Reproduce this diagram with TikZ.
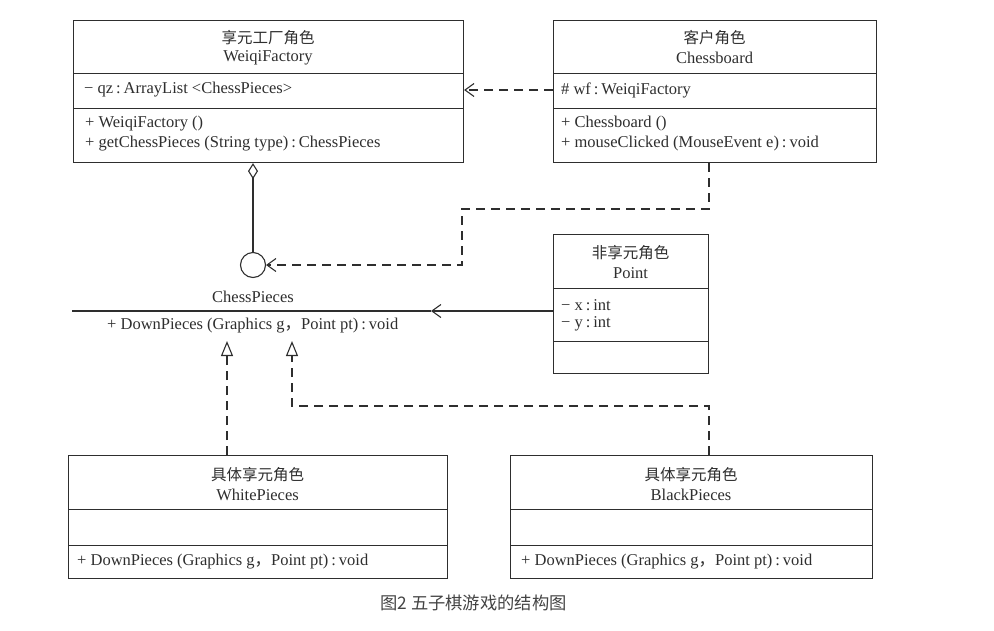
\documentclass[tikz,border=0pt]{standalone}
\usepackage{fontspec}
\setmainfont{Liberation Serif}
\newfontfamily\cjk{Noto Sans CJK SC}
\usetikzlibrary{arrows.meta}
\definecolor{ink}{HTML}{2E2E2E}
\definecolor{capink}{HTML}{444444}
\newcommand\umlcolon{\hspace{0.18em}:\hspace{0.18em}}
\newcommand\umlcomma{{\cjk ，}}
\begin{document}
\begin{tikzpicture}[x=1pt,y=-1pt,
  umlbox/.style={draw=ink, line width=1.1pt, rectangle, anchor=north west, inner sep=0pt},
  txt/.style={text=ink, font=\fontsize{16.5}{18}\selectfont, inner sep=0pt},
  txtl/.style={txt, anchor=west},
  cntxt/.style={text=ink, font=\cjk\fontsize{15.5}{17}\selectfont, inner sep=0pt},
  sepline/.style={draw=ink, line width=1pt},
  solidline/.style={draw=ink, line width=1.1pt},
  depline/.style={draw=ink, line width=1.1pt, dash pattern=on 9pt off 6pt,
    -{Straight Barb[length=9pt,width=13pt,line width=1.1pt]}},
  assocline/.style={draw=ink, line width=1.1pt,
    -{Straight Barb[length=9pt,width=13pt,line width=1.1pt]}},
  realline/.style={draw=ink, line width=1.1pt, dash pattern=on 9pt off 6pt,
    -{Triangle[open,length=15pt,width=12pt,line width=1.1pt]}},
  aggline/.style={draw=ink, line width=1.1pt,
    {Diamond[open,length=16pt,width=10pt,line width=1.1pt]}-}
]
\useasboundingbox (0,0) rectangle (994,630);

% boxes
\node[umlbox, minimum width=390pt, minimum height=142pt] (wf) at (73,20) {};
\node[umlbox, minimum width=323pt, minimum height=142pt] (cb) at (553,20) {};
\node[umlbox, minimum width=155pt, minimum height=139pt] (pt) at (553,234) {};
\node[umlbox, minimum width=379pt, minimum height=123pt] (wp) at (68,455) {};
\node[umlbox, minimum width=362pt, minimum height=123pt] (bp) at (510,455) {};

% separators
\draw[sepline] (wf.west |- 0,73) -- (wf.east |- 0,73);
\draw[sepline] (wf.west |- 0,108) -- (wf.east |- 0,108);
\draw[sepline] (cb.west |- 0,73) -- (cb.east |- 0,73);
\draw[sepline] (cb.west |- 0,108) -- (cb.east |- 0,108);
\draw[sepline] (pt.west |- 0,288) -- (pt.east |- 0,288);
\draw[sepline] (pt.west |- 0,341) -- (pt.east |- 0,341);
\draw[sepline] (wp.west |- 0,509) -- (wp.east |- 0,509);
\draw[sepline] (wp.west |- 0,545) -- (wp.east |- 0,545);
\draw[sepline] (bp.west |- 0,509) -- (bp.east |- 0,509);
\draw[sepline] (bp.west |- 0,545) -- (bp.east |- 0,545);

% WeiqiFactory texts
\node[cntxt] (wfcn) at (268,38) {享元工厂角色};
\node[txt] (wfname) at (268,58) {WeiqiFactory};
\node[txtl] (wfa1) at (84,90) {− qz\umlcolon ArrayList <ChessPieces>};
\node[txtl] (wfm1) at (85,124) {+ WeiqiFactory ()};
\node[txtl] (wfm2) at (85,144) {+ getChessPieces (String type)\umlcolon ChessPieces};

% Chessboard texts
\node[cntxt] (cbcn) at (714.5,38) {客户角色};
\node[txt] (cbname) at (714.5,58) {Chessboard};
\node[txtl] (cba1) at (561,90) {\# wf\umlcolon WeiqiFactory};
\node[txtl] (cbm1) at (561,124) {+ Chessboard ()};
\node[txtl] (cbm2) at (561,144) {+ mouseClicked (MouseEvent e)\umlcolon void};

% Point texts
\node[cntxt] (ptcn) at (630.5,253) {非享元角色};
\node[txt] (ptname) at (630.5,273) {Point};
\node[txtl] (pta1) at (561,305) {− x\umlcolon int};
\node[txtl] (pta2) at (561,324) {− y\umlcolon int};

% ChessPieces interface
\node[circle, draw=ink, line width=1.1pt, minimum size=25pt, inner sep=0pt] (iface) at (253,265) {};
\node[txt] (cpname) at (253,297) {ChessPieces};
\coordinate (cpL) at (72,311);
\coordinate (cpR) at (431,311);
\draw[solidline] (cpL) -- (cpR);
\node[txtl] (cpm1) at (107,326) {+ DownPieces (Graphics g\umlcomma Point pt)\umlcolon void};

% WhitePieces texts
\node[cntxt] (wpcn) at (257.5,475) {具体享元角色};
\node[txt] (wpname) at (257.5,495) {WhitePieces};
\node[txtl] (wpm1) at (77,562) {+ DownPieces (Graphics g\umlcomma Point pt)\umlcolon void};

% BlackPieces texts
\node[cntxt] (bpcn) at (691,475) {具体享元角色};
\node[txt] (bpname) at (691,495) {BlackPieces};
\node[txtl] (bpm1) at (521,562) {+ DownPieces (Graphics g\umlcomma Point pt)\umlcolon void};

% caption
\node[text=capink, font=\cjk\fontsize{17.3}{19}\selectfont, inner sep=0pt] (cap) at (473.5,603) {图2 五子棋游戏的结构图};

% connectors
\draw[depline] (cb.west |- wfa1) -- (wf.east |- wfa1);
\draw[aggline] (wf.south -| iface) -- (iface.north);
\coordinate (b1) at (709,209);
\coordinate (b2) at (462,209);
\draw[depline] (cb.south -| b1) -- (b1) -- (b2) |- (iface.east);
\draw[assocline] (pt.west |- cpR) -- (cpR);
\coordinate (r1) at (227,341);
\coordinate (r2) at (292,341);
\coordinate (b3) at (709,406);
\draw[realline] (wp.north -| r1) -- (r1);
\draw[realline] (bp.north -| b3) -- (b3) -| (r2);
\end{tikzpicture}
\end{document}
